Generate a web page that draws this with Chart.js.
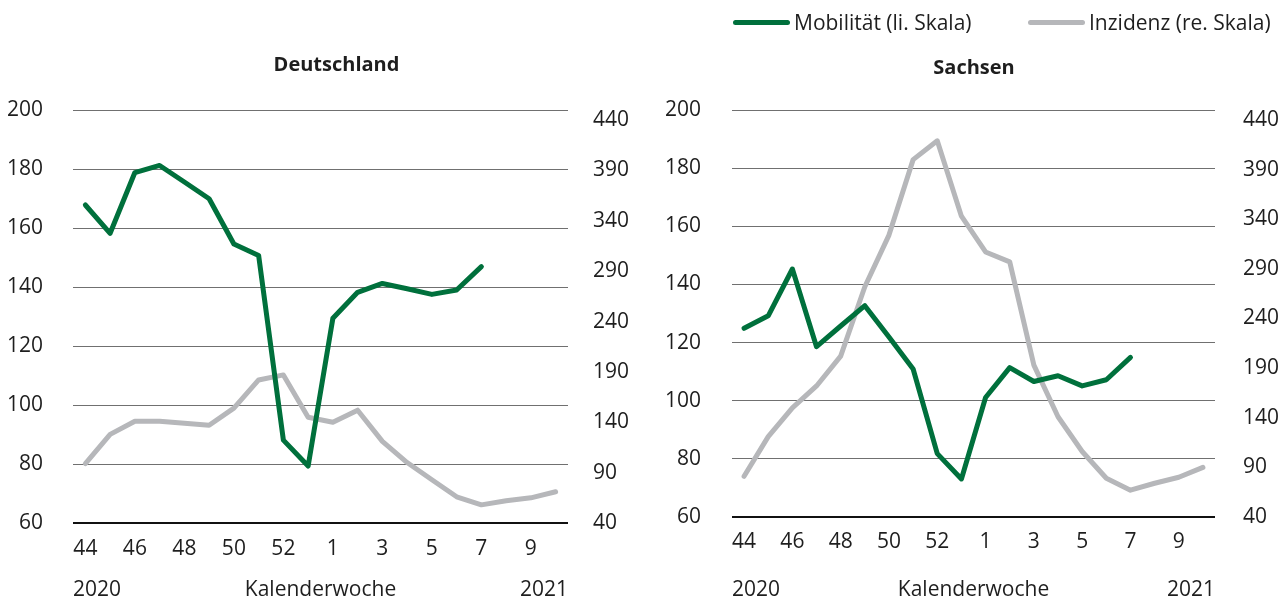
<!DOCTYPE html>
<html>
<head>
<meta charset="utf-8">
<script src="https://cdn.jsdelivr.net/npm/chart.js@4.4.1/dist/chart.umd.min.js"></script>
<style>
  body { margin:0; width:1286px; height:601px; background:#fff; overflow:hidden; position:relative; font-family:"Open Sans", sans-serif; color:#1e1e1e; }
  canvas { position:absolute; top:0; }
  #c1 { left:0; }
  #c2 { left:662px; }
  .leg { position:absolute; top:8px; font-size:21px; line-height:28px; white-space:nowrap; }
  .leg span { position:absolute; top:12px; left:0; height:5px; border-radius:3px; }
</style>
</head>
<body>
<canvas id="c1" width="673" height="601"></canvas>
<canvas id="c2" width="624" height="601"></canvas>
<div id="legend"></div>
<script>
// Kalenderwochen 44/2020 bis 10/2021
var weeks = ["44","45","46","47","48","49","50","51","52","53","1","2","3","4","5","6","7","8","9","10"];
var rightTicks = [40, 90, 140, 190, 240, 290, 340, 390, 440];
var years = ["2020", "2021"];

// Deutschland
var deMobilitaet = [167.8, 158.2, 178.8, 181.2, 175.6, 169.9, 154.6, 150.7, 88.1, 79.3, 129.4, 138.2, 141.2, 139.4, 137.5, 139.0, 146.9];
var deInzidenz = [99, 128, 141, 141, 139, 137, 154, 182, 187, 145, 140, 152, 121, 100, 83, 66, 58, 62, 65, 71];

// Sachsen
var snMobilitaet = [124.9, 129.2, 145.3, 118.6, 125.7, 132.7, 121.9, 110.9, 81.8, 73.1, 101.1, 111.4, 106.6, 108.6, 105.1, 107.2, 114.9];
var snInzidenz = [81, 121, 150, 172, 202, 272, 324, 400, 419, 343, 307, 297, 193, 141, 106, 79, 67, 74, 80, 90];

var green = "#00703c";
var grey = "#b6b7ba";
var txt = "#1e1e1e";
var fam = "'Open Sans', sans-serif";

// "2020" and "2021" under the axis, left and right
var yearPlugin = {
  id: "years",
  afterDraw: function(chart) {
    var ctx = chart.ctx, a = chart.chartArea;
    var y = chart.scales.x.bottom - 10.5;
    ctx.save();
    ctx.font = "21px " + fam;
    ctx.fillStyle = txt;
    ctx.textBaseline = "middle";
    ctx.textAlign = "left";
    ctx.fillText(years[0], a.left, y);
    ctx.textAlign = "right";
    ctx.fillText(years[1], a.right, y);
    ctx.restore();
  }
};

function makeChart(id, titleText, mob, inz, g) {
  return new Chart(document.getElementById(id), {
    type: "line",
    data: {
      labels: weeks,
      datasets: [
        { label: "Mobilität (li. Skala)", data: mob, yAxisID: "y", borderColor: green, backgroundColor: green,
          borderWidth: 5, pointRadius: 0, borderJoinStyle: "round", borderCapStyle: "round" },
        { label: "Inzidenz (re. Skala)", data: inz, yAxisID: "y2", borderColor: grey, backgroundColor: grey,
          borderWidth: 5, pointRadius: 0, borderJoinStyle: "round", borderCapStyle: "round" }
      ]
    },
    options: {
      responsive: false,
      animation: false,
      layout: { padding: 0 },
      plugins: {
        legend: { display: false },
        tooltip: { enabled: false },
        title: { display: true, text: titleText, color: txt,
                 font: { family: fam, size: 20, weight: "bold" },
                 padding: { top: g.titleTop, bottom: g.titleBottom } }
      },
      scales: {
        x: {
          offset: true,
          grid: { display: false, drawTicks: false },
          border: { display: false },
          ticks: { autoSkip: false, maxRotation: 0, padding: g.xPad, color: txt, font: { family: fam, size: 21 },
                   callback: function(v, i) { return i % 2 === 0 ? this.getLabelForValue(v) : ""; } },
          title: { display: true, text: "Kalenderwoche", color: txt, font: { family: fam, size: 21, lineHeight: 1 }, padding: 0 },
          afterFit: function(s) { s.height = g.xH; }
        },
        y: {
          position: "left", min: 60, max: 200,
          ticks: { stepSize: 20, padding: g.yPad, color: txt, font: { family: fam, size: 21 } },
          grid: { drawTicks: false,
                  color: function(c) { return c.tick.value === 60 ? "#111" : "#707070"; },
                  lineWidth: function(c) { return c.tick.value === 60 ? 2 : 1; } },
          border: { display: false },
          afterFit: function(s) { s.width = g.leftW; }
        },
        y2: {
          position: "right", min: 40, max: 450,
          grid: { display: false, drawTicks: false },
          border: { display: false },
          afterBuildTicks: function(a) { a.ticks = rightTicks.map(function(v) { return { value: v }; }); },
          ticks: { padding: g.y2Pad, color: txt, font: { family: fam, size: 21 } },
          afterFit: function(s) { s.width = g.rightW; }
        }
      }
    },
    plugins: [yearPlugin]
  });
}

var deChart = makeChart("c1", "Deutschland", deMobilitaet, deInzidenz,
  { titleTop: 53, titleBottom: 33, xH: 78, xPad: 13, leftW: 73, rightW: 105, yPad: 30, y2Pad: 25 });
var snChart = makeChart("c2", "Sachsen", snMobilitaet, snInzidenz,
  { titleTop: 56, titleBottom: 30, xH: 84, xPad: 12, leftW: 70, rightW: 71, yPad: 31, y2Pad: 28 });

// legend above the Sachsen panel
var legendX = [733, 1028];
var legend = document.getElementById("legend");
snChart.data.datasets.forEach(function(ds, i) {
  var item = document.createElement("div");
  item.className = "leg";
  item.style.left = legendX[i] + "px";
  item.style.paddingLeft = "61px";
  item.innerHTML = '<span style="width:57px;background:' + ds.borderColor + '"></span>' + ds.label;
  legend.appendChild(item);
});
</script>
</body>
</html>
